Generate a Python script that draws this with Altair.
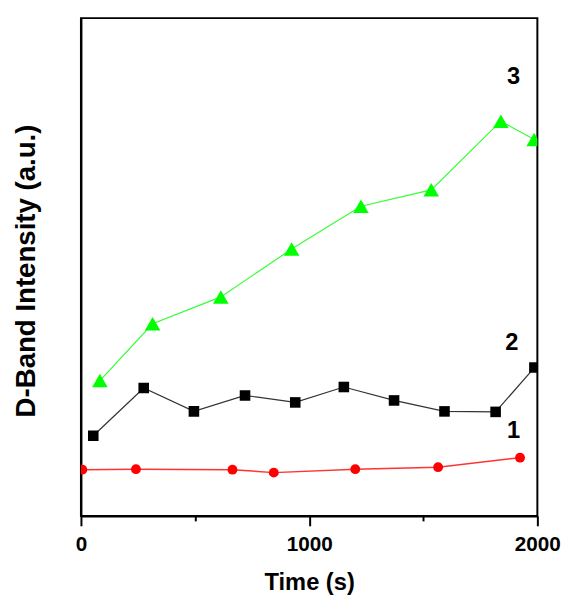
import altair as alt
import pandas as pd

# Curve 3 (green triangles)
t3 = [83, 314, 613, 923, 1227, 1535, 1840, 1986]
v3 = [27.2, 38.6, 44.0, 53.6, 62.2, 65.5, 79.3, 75.6]
# Curve 2 (black squares)
t2 = [54, 275, 495, 719, 939, 1152, 1372, 1593, 1817, 1987]
v2 = [16.1, 25.7, 21.0, 24.2, 22.8, 25.9, 23.2, 21.0, 20.9, 29.8]
# Curve 1 (red circles)
t1 = [6, 241, 664, 845, 1202, 1565, 1924]
v1 = [9.3, 9.4, 9.3, 8.7, 9.4, 9.8, 11.7]

# curve labels
lab_text = ["3", "2", "1"]
lab_t = [1896, 1888, 1896]
lab_v = [88.1, 34.7, 17.0]

x_ticks = [0, 500, 1000, 1500, 2000]

FONT = "Liberation Sans"

def df(t, v):
    return pd.DataFrame({"t": t, "v": v})

xs = alt.Scale(domain=[0, 2000], nice=False, zero=False)
ys = alt.Scale(domain=[0, 100], nice=False, zero=False)

x_enc = alt.X("t:Q", scale=xs, axis=alt.Axis(
    values=x_ticks,
    labelExpr="datum.value % 1000 === 0 ? datum.label : ''",
    format="d",
    tickSize={"condition": {"test": "datum.value % 1000 === 0", "value": 10}, "value": 5},
    tickWidth=2, tickColor="black",
    domainColor="black", domainWidth=2,
    labelFont=FONT, labelFontWeight="bold", labelFontSize=21, labelColor="black",
    labelPadding=8, labelFlush=False,
    grid=False,
    title="Time (s)", titleFont=FONT, titleFontWeight="bold", titleFontSize=24,
    titleColor="black", titleBaseline="alphabetic", titleY=75,
))
y_enc = alt.Y("v:Q", scale=ys, axis=alt.Axis(
    ticks=False, labels=False, grid=False,
    domainColor="black", domainWidth=2,
    title="D-Band Intensity (a.u.)", titleFont=FONT, titleFontWeight="bold",
    titleFontSize=28, titleColor="black", titleAngle=270,
    titleBaseline="alphabetic", titleAlign="center", titleX=-47, titleY=256,
))

def series(t, v, color, linecolor, shape, size, lw):
    base = alt.Chart(df(t, v)).encode(x=x_enc, y=y_enc)
    line = base.mark_line(color=linecolor, strokeWidth=lw, clip=True)
    pts = base.mark_point(shape=shape, size=size, filled=True, opacity=1,
                          color=color, clip=True)
    return line + pts

s3 = series(t3, v3, "#00FF00", "#33FF33", "triangle-up", 250, 1.2)
s2 = series(t2, v2, "#000000", "#333333", "square", 115, 1.2)
s1 = series(t1, v1, "#FF0000", "#FF3333", "circle", 100, 1.5)

labels = alt.Chart(pd.DataFrame({"t": lab_t, "v": lab_v, "s": lab_text})).mark_text(
    font=FONT, fontWeight="bold", fontSize=24, color="black",
    align="center", baseline="middle"
).encode(x=alt.X("t:Q", scale=xs), y=alt.Y("v:Q", scale=ys), text="s:N")

chart = alt.layer(s3, s2, s1, labels).properties(
    width=463, height=505,
    background="white",
    autosize=alt.AutoSizeParams(type="none"),
    padding={"left": 74, "top": 6, "right": 26, "bottom": 80},
).configure_view(stroke="black", strokeWidth=2)

chart.save("out.html", embed_options={"renderer": "svg", "actions": False})
